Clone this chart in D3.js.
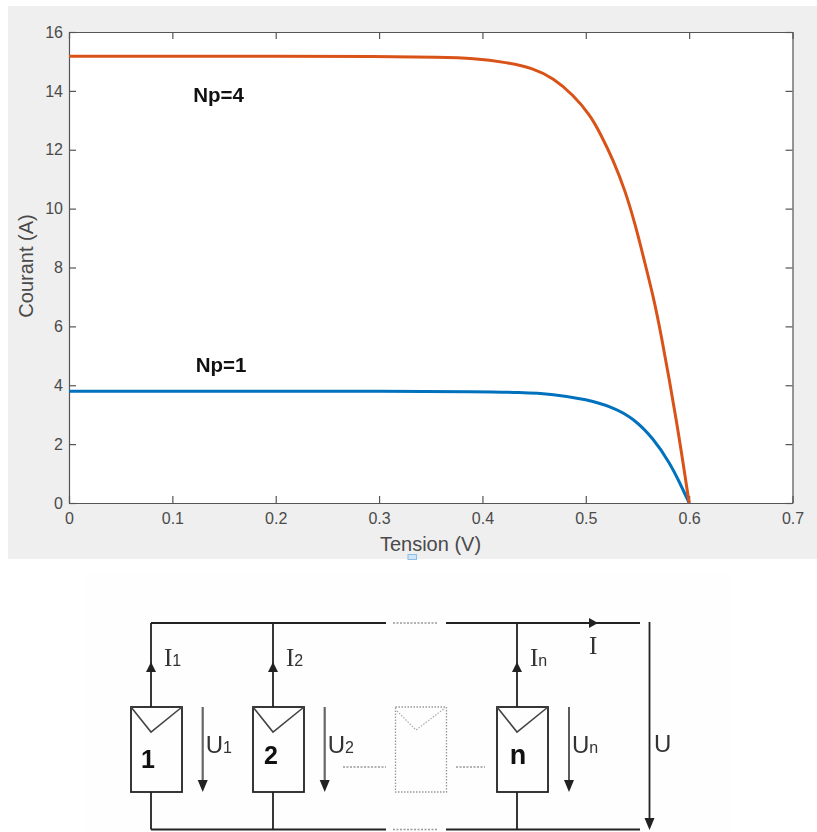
<!DOCTYPE html>
<html>
<head>
<meta charset="utf-8">
<script src="https://cdn.jsdelivr.net/npm/d3@7"></script>
<style>
body { margin: 0; background: #fff; }
svg { display: block; filter: blur(0.35px); }
.tick text { font-family: "Liberation Sans", Arial, sans-serif; font-size: 16px; fill: #4a4a4a; }
.axis path, .axis line { stroke: #555; stroke-width: 1.2; }
</style>
</head>
<body>
<script>
// values
var tension4 = [0, 0.1, 0.2, 0.3, 0.359, 0.3912, 0.4235, 0.4492, 0.4686, 0.4879, 0.5041, 0.5138, 0.5266, 0.5379, 0.5476, 0.5573, 0.5653, 0.5718, 0.5879, 0.6];
var courant4 = [15.18, 15.18, 15.18, 15.17, 15.14, 15.11, 14.97, 14.77, 14.43, 13.86, 13.18, 12.57, 11.65, 10.63, 9.5, 8.14, 7.01, 5.94, 2.82, 0];
var tension1 = [0, 0.1, 0.2, 0.3, 0.3976, 0.4363, 0.4686, 0.5009, 0.5266, 0.546, 0.5653, 0.5815, 0.5912, 0.6];
var courant1 = [3.8, 3.8, 3.8, 3.8, 3.78, 3.76, 3.7, 3.52, 3.25, 2.88, 2.2, 1.35, 0.67, 0];
var xTicks = [0, 0.1, 0.2, 0.3, 0.4, 0.5, 0.6, 0.7];
var yTicks = [0, 2, 4, 6, 8, 10, 12, 14, 16];

// schematic branches
var cellNames = ["1", "2", "", "n"];
var currentSubs = ["1", "2", "", "n"];
var voltageSubs = ["1", "2", "", "n"];

var svg = d3.select("body").append("svg")
	.attr("width", 817)
	.attr("height", 832);

svg.append("rect").attr("x", 8).attr("y", 6).attr("width", 809).attr("height", 553).attr("fill", "#efefef");
svg.append("rect").attr("x", 85).attr("y", 574).attr("width", 646).attr("height", 258).attr("fill", "#fefefe");
svg.append("rect").attr("x", 408).attr("y", 554.5).attr("width", 8.5).attr("height", 5)
	.attr("fill", "#cfe5f8").attr("stroke", "#8bbde6").attr("stroke-width", 1);

var x = d3.scaleLinear().domain([0, 0.7]).range([69, 792.5]);
var y = d3.scaleLinear().domain([0, 16]).range([503, 32]);

svg.append("rect").attr("x", 69).attr("y", 32).attr("width", 723.5).attr("height", 471).attr("fill", "#fff");

var xAxis = d3.axisBottom(x).tickValues(xTicks).tickFormat(function (d) { return d; }).tickSizeInner(-7).tickSizeOuter(0).tickPadding(10);
var yAxis = d3.axisLeft(y).tickValues(yTicks).tickSizeInner(-7).tickSizeOuter(0).tickPadding(6);

svg.append("g").attr("class", "axis").attr("transform", "translate(0,503)").call(xAxis);
svg.append("g").attr("class", "axis").attr("transform", "translate(69,0)").call(yAxis);
svg.append("g").attr("class", "axis").attr("transform", "translate(0,32)")
	.call(d3.axisTop(x).tickValues(xTicks).tickFormat("").tickSizeInner(-7).tickSizeOuter(0));
svg.append("g").attr("class", "axis").attr("transform", "translate(792.5,0)")
	.call(d3.axisRight(y).tickValues(yTicks).tickFormat("").tickSizeInner(-7).tickSizeOuter(0));

function drawCurve(xs, ys, color) {
	var line = d3.line()
		.x(function (d) { return x(d[0]); })
		.y(function (d) { return y(d[1]); })
		.curve(d3.curveBasis);
	svg.append("path")
		.attr("d", line(d3.zip(xs, ys)))
		.attr("fill", "none")
		.attr("stroke", color)
		.attr("stroke-width", 3);
}
drawCurve(tension1, courant1, "#0072bd");
drawCurve(tension4, courant4, "#d95319");

function chartText(str, px, py, size, weight, color) {
	return svg.append("text")
		.attr("x", px).attr("y", py)
		.attr("text-anchor", "middle")
		.attr("font-family", "'Liberation Sans', Arial, sans-serif")
		.attr("font-size", size)
		.attr("font-weight", weight)
		.attr("fill", color)
		.text(str);
}
chartText("Tension (V)", 430.5, 550.5, 20, "normal", "#4a4a4a");
chartText("Courant (A)", 0, 0, 20, "normal", "#4a4a4a").attr("transform", "translate(33,266) rotate(-90)");
chartText("Np=4", 218.5, 102, 20.5, "bold", "#111");
chartText("Np=1", 221, 372, 20.5, "bold", "#111");

// schematic
var branchX = d3.scaleLinear().domain([0, 3]).range([151, 517]);
var wireTop = 623, wireBottom = 829.5, boxTop = 707, boxBottom = 792;
var ink = "#222";
var narrow = "'Liberation Sans Narrow', 'Liberation Sans', sans-serif";
var serif = "'Liberation Serif', serif";

var g = svg.append("g");

function wire(x1, y1, x2, y2, color, width, dash) {
	g.append("line")
		.attr("x1", x1).attr("y1", y1).attr("x2", x2).attr("y2", y2)
		.attr("stroke", color || ink)
		.attr("stroke-width", width || 1.8)
		.attr("stroke-dasharray", dash || null);
}
function triangle(px, py, dir) {
	// px,py is the tip
	var pts;
	if (dir == "up") pts = [[px, py], [px - 5, py + 10], [px + 5, py + 10]];
	if (dir == "down") pts = [[px, py], [px - 5, py - 12], [px + 5, py - 12]];
	if (dir == "right") pts = [[px, py], [px - 9, py - 5], [px - 9, py + 5]];
	g.append("polygon").attr("points", pts.join(" ")).attr("fill", ink);
}
function label(base, sub, px, py, family, size) {
	var t = g.append("text")
		.attr("x", px).attr("y", py)
		.attr("font-family", family)
		.attr("font-size", size)
		.attr("fill", "#333")
		.text(base);
	if (sub) t.append("tspan").attr("font-size", 16).attr("font-family", narrow).text(sub);
}

[wireTop, wireBottom].forEach(function (wy) {
	wire(151, wy, 386, wy);
	wire(393, wy, 437, wy, "#999", 1.5, "2,1.5");
	wire(446, wy, 640, wy);
});
triangle(598, wireTop, "right");
wire(649.5, 622, 649.5, 826);
triangle(649.5, 830, "down");
label("I", "", 589, 654, serif, 25);
label("U", "", 654, 752, narrow, 24);

// dotted connectors between cells
wire(343, 767, 386, 767, "#999", 1.5, "2,1.5");
wire(456, 767, 485, 767, "#999", 1.5, "2,1.5");

cellNames.forEach(function (name, i) {
	var bx = branchX(i);
	var left = bx - 20, right = bx + 31;
	if (i == 2) {
		// faded placeholder cell
		g.append("rect").attr("x", 395.5).attr("y", boxTop).attr("width", 51).attr("height", boxBottom - boxTop)
			.attr("fill", "none").attr("stroke", "#999").attr("stroke-width", 1.3).attr("stroke-dasharray", "1.5,1.5");
		g.append("polyline").attr("points", [[397, 711], [416, 730], [445, 708]].join(" "))
			.attr("fill", "none").attr("stroke", "#aaa").attr("stroke-width", 1.2).attr("stroke-dasharray", "1.5,1.5");
		return;
	}
	wire(bx, wireTop, bx, boxTop);
	wire(bx, boxBottom, bx, wireBottom);
	triangle(bx, 662, "up");
	g.append("rect").attr("x", left).attr("y", boxTop).attr("width", right - left).attr("height", boxBottom - boxTop)
		.attr("fill", "none").attr("stroke", ink).attr("stroke-width", 1.8);
	g.append("polyline").attr("points", [[left, boxTop], [bx, 732], [right, boxTop]].join(" "))
		.attr("fill", "none").attr("stroke", "#444").attr("stroke-width", 1.6);
	g.append("text")
		.attr("x", bx + (i == 0 ? -3 : i == 1 ? -2 : 1)).attr("y", i == 0 ? 768 : 764)
		.attr("text-anchor", "middle")
		.attr("font-family", narrow)
		.attr("font-weight", "bold")
		.attr("font-size", i == 3 ? 27 : 25)
		.attr("fill", "#111")
		.text(name);

	var ux = i == 3 ? 569 : bx + 51.7;
	wire(ux, 707, ux, 783, i == 3 ? "#333" : "#666", i == 3 ? 1.6 : 2.2);
	triangle(ux, 792, "down");
	label("I", currentSubs[i], bx + 13, 666, serif, 25);
	label("U", voltageSubs[i], ux + 3, 753, narrow, 24);
});
</script>
</body>
</html>
